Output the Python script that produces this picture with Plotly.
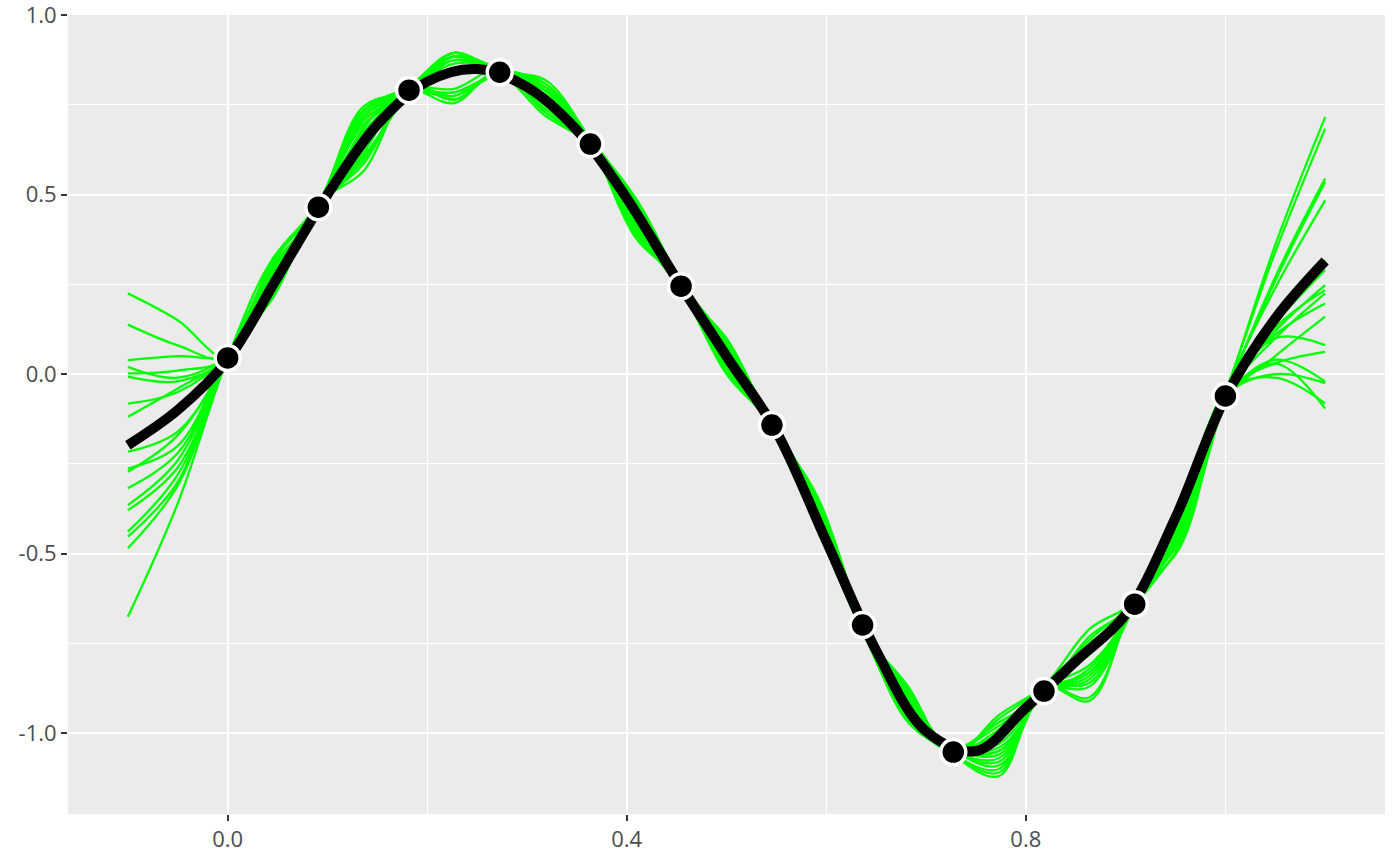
import plotly.graph_objects as go

# ---------------- data ----------------
obs_x = [0.0, 0.0909, 0.1818, 0.2727, 0.3636, 0.4545, 0.5455, 0.6364, 0.7273, 0.8182, 0.9091, 1.0]
obs_y = [0.045, 0.465, 0.791, 0.841, 0.641, 0.245, -0.142, -0.699, -1.053, -0.883, -0.641, -0.061]

mean_x = [-0.1, -0.05, 0.0, 0.05, 0.1, 0.15, 0.2, 0.25, 0.3, 0.35, 0.4, 0.45, 0.5,
          0.55, 0.6, 0.65, 0.7, 0.75, 0.8, 0.85, 0.9, 0.95, 1.0, 1.05, 1.1]
mean_y = [-0.198, -0.10, 0.04, 0.27, 0.50, 0.695, 0.815, 0.85, 0.80, 0.68, 0.49, 0.265, 0.05,
          -0.16, -0.465, -0.77, -0.995, -1.05, -0.93, -0.80, -0.67, -0.40, -0.065, 0.155, 0.315]

sample_x = [-0.1, -0.05, 0.0, 0.045, 0.091, 0.136, 0.182, 0.227, 0.273, 0.318, 0.364, 0.409, 0.455,
            0.5, 0.545, 0.591, 0.636, 0.682, 0.727, 0.773, 0.818, 0.864, 0.909, 0.955, 1.0, 1.05, 1.1]

sample_01 = [0.225, 0.15, 0.045, 0.31, 0.475, 0.735, 0.79, 0.885, 0.85, 0.80, 0.64, 0.43, 0.235, 0.08, -0.14, -0.37, -0.69, -0.94, -1.05, -1.07, -0.88, -0.83, -0.65, -0.43, -0.06, 0.36, 0.716]
sample_02 = [0.138, 0.08, 0.045, 0.29, 0.455, 0.715, 0.80, 0.895, 0.84, 0.79, 0.65, 0.41, 0.245, 0.04, -0.15, -0.40, -0.70, -0.89, -1.04, -0.97, -0.89, -0.73, -0.64, -0.36, -0.05, 0.34, 0.684]
sample_03 = [0.039, 0.05, 0.055, 0.23, 0.465, 0.595, 0.78, 0.775, 0.83, 0.74, 0.64, 0.48, 0.255, 0.09, -0.13, -0.35, -0.71, -0.96, -1.06, -1.11, -0.87, -0.90, -0.63, -0.46, -0.07, 0.27, 0.545]
sample_04 = [0.002, 0.01, 0.045, 0.32, 0.475, 0.745, 0.79, 0.875, 0.85, 0.81, 0.64, 0.40, 0.235, 0.02, -0.14, -0.39, -0.69, -0.91, -1.05, -1.03, -0.88, -0.76, -0.65, -0.41, -0.06, 0.26, 0.535]
sample_05 = [-0.007, -0.02, 0.045, 0.26, 0.455, 0.625, 0.80, 0.765, 0.84, 0.73, 0.65, 0.47, 0.245, 0.07, -0.15, -0.38, -0.70, -0.95, -1.04, -1.05, -0.89, -0.85, -0.64, -0.45, -0.05, 0.24, 0.484]
sample_06 = [-0.082, -0.05, 0.055, 0.28, 0.465, 0.695, 0.78, 0.885, 0.83, 0.78, 0.64, 0.39, 0.255, 0.01, -0.13, -0.42, -0.71, -0.88, -1.06, -0.96, -0.87, -0.71, -0.63, -0.35, -0.07, 0.15, 0.317]
sample_07 = [-0.119, -0.04, 0.045, 0.22, 0.475, 0.565, 0.79, 0.795, 0.85, 0.75, 0.64, 0.46, 0.235, 0.10, -0.14, -0.34, -0.69, -0.97, -1.05, -1.09, -0.88, -0.81, -0.65, -0.42, -0.06, 0.14, 0.290]
sample_08 = [-0.216, -0.16, 0.045, 0.30, 0.455, 0.725, 0.80, 0.895, 0.84, 0.82, 0.65, 0.44, 0.245, 0.03, -0.15, -0.41, -0.70, -0.90, -1.04, -0.98, -0.89, -0.82, -0.64, -0.44, -0.05, 0.12, 0.248]
sample_09 = [-0.263, -0.20, 0.055, 0.27, 0.465, 0.675, 0.78, 0.785, 0.83, 0.72, 0.64, 0.49, 0.255, 0.08, -0.13, -0.37, -0.71, -0.93, -1.06, -1.12, -0.87, -0.91, -0.63, -0.48, -0.07, 0.13, 0.234]
sample_10 = [-0.272, -0.17, 0.045, 0.31, 0.475, 0.715, 0.79, 0.865, 0.85, 0.79, 0.64, 0.42, 0.235, 0.00, -0.14, -0.40, -0.69, -0.89, -1.05, -0.99, -0.88, -0.75, -0.65, -0.39, -0.06, 0.10, 0.225]
sample_11 = [-0.318, -0.22, 0.045, 0.24, 0.455, 0.615, 0.80, 0.765, 0.84, 0.74, 0.65, 0.45, 0.245, 0.06, -0.15, -0.36, -0.70, -0.94, -1.04, -1.06, -0.89, -0.84, -0.64, -0.43, -0.05, 0.11, 0.197]
sample_12 = [-0.365, -0.24, 0.055, 0.29, 0.465, 0.705, 0.78, 0.895, 0.83, 0.80, 0.64, 0.38, 0.255, 0.02, -0.13, -0.39, -0.71, -0.87, -1.06, -0.95, -0.87, -0.74, -0.63, -0.38, -0.07, 0.05, 0.160]
sample_13 = [-0.379, -0.26, 0.045, 0.25, 0.475, 0.665, 0.79, 0.755, 0.85, 0.73, 0.64, 0.47, 0.235, 0.09, -0.14, -0.38, -0.69, -0.95, -1.05, -1.08, -0.88, -0.87, -0.65, -0.47, -0.06, 0.10, 0.081]
sample_14 = [-0.439, -0.28, 0.045, 0.30, 0.455, 0.735, 0.80, 0.875, 0.84, 0.81, 0.65, 0.41, 0.245, 0.05, -0.15, -0.40, -0.70, -0.92, -1.04, -1.04, -0.89, -0.77, -0.64, -0.40, -0.05, 0.03, 0.062]
sample_15 = [-0.453, -0.30, 0.055, 0.21, 0.465, 0.585, 0.78, 0.785, 0.83, 0.76, 0.64, 0.48, 0.255, 0.08, -0.13, -0.36, -0.71, -0.96, -1.06, -1.10, -0.87, -0.86, -0.63, -0.44, -0.07, 0.04, -0.021]
sample_16 = [-0.485, -0.31, 0.045, 0.28, 0.475, 0.705, 0.79, 0.885, 0.85, 0.80, 0.64, 0.43, 0.235, 0.01, -0.14, -0.41, -0.69, -0.90, -1.05, -1.00, -0.88, -0.76, -0.65, -0.37, -0.06, 0.00, -0.025]
sample_17 = [-0.676, -0.36, 0.045, 0.32, 0.455, 0.685, 0.80, 0.775, 0.84, 0.75, 0.65, 0.46, 0.245, 0.07, -0.15, -0.39, -0.70, -0.94, -1.04, -1.05, -0.89, -0.83, -0.64, -0.45, -0.05, -0.01, -0.082]
sample_18 = [0.02, -0.01, 0.055, 0.26, 0.465, 0.605, 0.78, 0.885, 0.83, 0.79, 0.64, 0.42, 0.255, 0.03, -0.13, -0.38, -0.71, -0.91, -1.06, -1.02, -0.87, -0.78, -0.63, -0.42, -0.07, 0.03, -0.096]

samples = [sample_01, sample_02, sample_03, sample_04, sample_05, sample_06,
           sample_07, sample_08, sample_09, sample_10, sample_11, sample_12,
           sample_13, sample_14, sample_15, sample_16, sample_17, sample_18]

x_major = [0.0, 0.4, 0.8]
x_major_text = ["0.0", "0.4", "0.8"]
x_minor = [0.2, 0.6, 1.0]
y_major = [-1.0, -0.5, 0.0, 0.5, 1.0]
y_major_text = ["-1.0", "-0.5", "0.0", "0.5", "1.0"]
y_minor = [-0.75, -0.25, 0.25, 0.75]

# ---------------- figure ----------------
fig = go.Figure()

for s in samples:
    fig.add_trace(go.Scatter(
        x=sample_x, y=s, mode="lines",
        line=dict(color="#00FF00", width=2.3, shape="spline", smoothing=1.0),
        hoverinfo="skip", showlegend=False))

fig.add_trace(go.Scatter(
    x=mean_x, y=mean_y, mode="lines",
    line=dict(color="black", width=10, shape="spline", smoothing=1.0),
    showlegend=False))

fig.add_trace(go.Scatter(
    x=obs_x, y=obs_y, mode="markers",
    marker=dict(color="black", size=25, line=dict(color="white", width=3.5)),
    showlegend=False))

axis_common = dict(
    showline=False, zeroline=False, automargin=False,
    showgrid=True, gridcolor="white", gridwidth=2.2,
    ticks="outside", ticklen=6, tickwidth=2.4, tickcolor="#333333",
    tickfont=dict(family="Open Sans", size=22, color="#4D4D4D"),
    ticklabeloverflow="allow",
)

fig.update_layout(
    width=1400, height=866,
    margin=dict(l=68, r=15, t=15, b=52),
    paper_bgcolor="white", plot_bgcolor="#EBEBEB",
    showlegend=False,
    xaxis=dict(range=[-0.16, 1.16], tickmode="array", tickvals=x_major, ticktext=x_major_text,
               minor=dict(tickvals=x_minor, showgrid=True, gridcolor="white", gridwidth=1.1, ticks=""),
               **axis_common),
    yaxis=dict(range=[-1.2255, 1.0005], tickmode="array", tickvals=y_major, ticktext=y_major_text,
               minor=dict(tickvals=y_minor, showgrid=True, gridcolor="white", gridwidth=1.1, ticks=""),
               **axis_common),
)

# remove the browser's default 8px body margin so the figure sits at the page origin
fig.write_html("out.html", config={"displayModeBar": False},
               post_script="document.body.style.margin='0';")
